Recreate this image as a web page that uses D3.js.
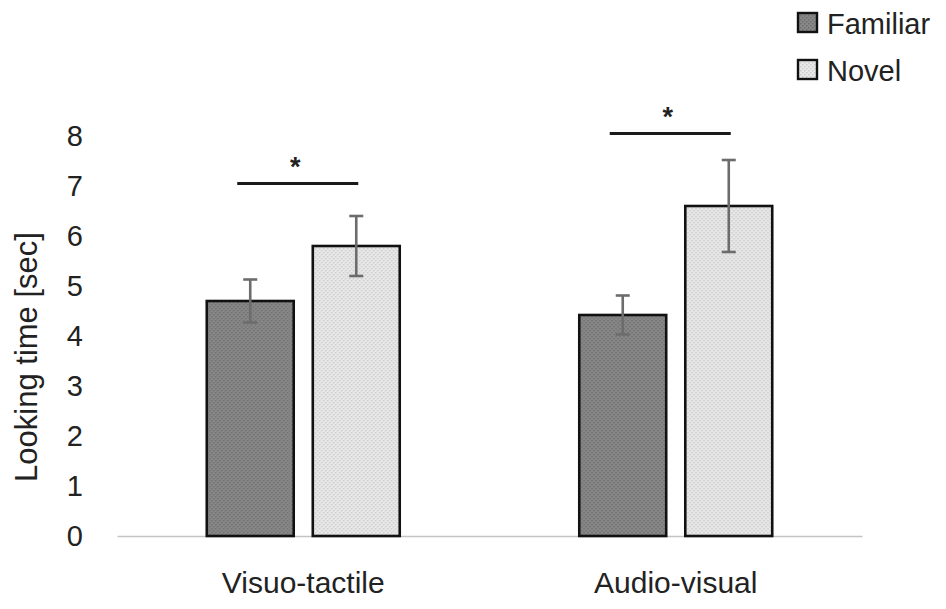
<!DOCTYPE html>
<html>
<head>
<meta charset="utf-8">
<script src="https://cdn.jsdelivr.net/npm/d3@7"></script>
<style>
  body { margin: 0; background: #fff; }
  text { font-family: "Liberation Sans", Arial, sans-serif; fill: #222; }
</style>
</head>
<body>
<div id="chart"></div>
<script>
const categories = ['Visuo-tactile', 'Audio-visual']
const seriesNames = ['Familiar', 'Novel']
const familiar = [4.7, 4.42]
const novel = [5.8, 6.6]
const familiarErr = [0.43, 0.39]
const novelErr = [0.6, 0.92]
const sigLevel = [7.05, 8.05]
const yTicks = [0, 1, 2, 3, 4, 5, 6, 7, 8]

const width = 946
const height = 609
const plotLeft = 117, plotRight = 862, plotBottom = 536, plotTop = 136
const baseColors = ['#888888', '#e8e8e8']
const dotColors = ['#6f6f6f', '#cdcdcd']

const svg = d3.select('#chart')
              .append('svg')
              .attr('width', width)
              .attr('height', height)

// dotted textures like the original fills
const defs = svg.append('defs')
seriesNames.forEach((s, i) => {
    const p = defs.append('pattern')
        .attr('id', 'tex' + i)
        .attr('width', 4)
        .attr('height', 4)
        .attr('patternUnits', 'userSpaceOnUse')
    p.append('rect').attr('width', 4).attr('height', 4).style('fill', baseColors[i])
    p.append('rect').attr('x', 0).attr('y', 0).attr('width', 1.5).attr('height', 1.5).style('fill', dotColors[i])
    p.append('rect').attr('x', 2).attr('y', 2).attr('width', 1.5).attr('height', 1.5).style('fill', dotColors[i])
})

const y = d3.scaleLinear().domain([0, 8]).range([plotBottom, plotTop])
const x0 = d3.scaleBand().domain(categories).range([plotLeft, plotRight]).paddingInner(0.482).paddingOuter(0.241)
const x1 = d3.scaleBand().domain(seriesNames).range([0, x0.bandwidth()]).paddingInner(0.18).paddingOuter(0)

// rows: one per category, holding both series
const rows = categories.map((c, i) => ({
    cat: c,
    bars: [
        {name: 'Familiar', v: familiar[i], e: familiarErr[i]},
        {name: 'Novel', v: novel[i], e: novelErr[i]}
    ],
    sig: sigLevel[i]
}))

// y axis (labels only)
svg.append('g')
    .attr('transform', `translate(${plotLeft},0)`)
    .call(d3.axisLeft(y).tickValues(yTicks).tickSize(0).tickPadding(34))
    .call(g => g.select('.domain').remove())
    .selectAll('text')
    .style('font-size', '29px')
    .style('fill', '#222')

// x axis
const xAxis = svg.append('g')
    .attr('transform', `translate(0,${plotBottom})`)
    .call(d3.axisBottom(x0).tickSize(0).tickSizeOuter(0).tickPadding(36))
xAxis.select('.domain').attr('stroke', '#c4c4c4').attr('stroke-width', 1.5)
xAxis.selectAll('text').style('font-size', '30px').style('fill', '#222')

const g = svg.selectAll('g.grp')
    .data(rows)
    .enter()
    .append('g')
    .attr('class', 'grp')
    .attr('transform', d => `translate(${x0(d.cat)},0)`)

g.selectAll('rect')
    .data(d => d.bars)
    .enter()
    .append('rect')
    .attr('x', d => x1(d.name))
    .attr('y', d => y(d.v))
    .attr('width', x1.bandwidth())
    .attr('height', d => y(0) - y(d.v))
    .style('fill', (_, i) => `url(#tex${i})`)
    .style('stroke', '#111')
    .style('stroke-width', 2.6)

// error bars
const err = g.selectAll('g.err')
    .data(d => d.bars)
    .enter()
    .append('g')
    .attr('class', 'err')
    .style('stroke', '#6c6c6c')
    .style('stroke-width', 2.6)
const cx = d => x1(d.name) + x1.bandwidth() / 2
err.append('line')
    .attr('x1', cx).attr('x2', cx)
    .attr('y1', d => y(d.v + d.e)).attr('y2', d => y(d.v - d.e))
err.append('line')
    .attr('x1', d => cx(d) - 7).attr('x2', d => cx(d) + 7)
    .attr('y1', d => y(d.v + d.e)).attr('y2', d => y(d.v + d.e))
err.append('line')
    .attr('x1', d => cx(d) - 7).attr('x2', d => cx(d) + 7)
    .attr('y1', d => y(d.v - d.e)).attr('y2', d => y(d.v - d.e))

// significance lines
g.append('line')
    .attr('x1', x1('Familiar') + x1.bandwidth() / 2 - 13)
    .attr('x2', x1('Novel') + x1.bandwidth() / 2 + 2)
    .attr('y1', d => y(d.sig))
    .attr('y2', d => y(d.sig))
    .style('stroke', '#1a1a1a')
    .style('stroke-width', 2.8)

g.append('text')
    .attr('x', (x1('Familiar') + x1('Novel') + x1.bandwidth()) / 2 - 8)
    .attr('y', d => y(d.sig) - 8)
    .attr('text-anchor', 'middle')
    .style('font-size', '27px')
    .style('font-weight', 'bold')
    .text('*')

// legend
const legend = svg.selectAll('g.leg')
    .data(seriesNames)
    .enter()
    .append('g')
    .attr('class', 'leg')
    .attr('transform', (_, i) => `translate(798,${13 + i * 47})`)
legend.append('rect')
    .attr('width', 19)
    .attr('height', 19)
    .style('fill', (_, i) => `url(#tex${i})`)
    .style('stroke', '#111')
    .style('stroke-width', 2.4)
legend.append('text')
    .attr('x', 29)
    .attr('y', 21)
    .style('font-size', '29px')
    .text(d => d)

// y axis title
svg.append('text')
    .attr('transform', `translate(37,357) rotate(-90)`)
    .attr('text-anchor', 'middle')
    .style('font-size', '31px')
    .text('Looking time [sec]')
</script>
</body>
</html>
